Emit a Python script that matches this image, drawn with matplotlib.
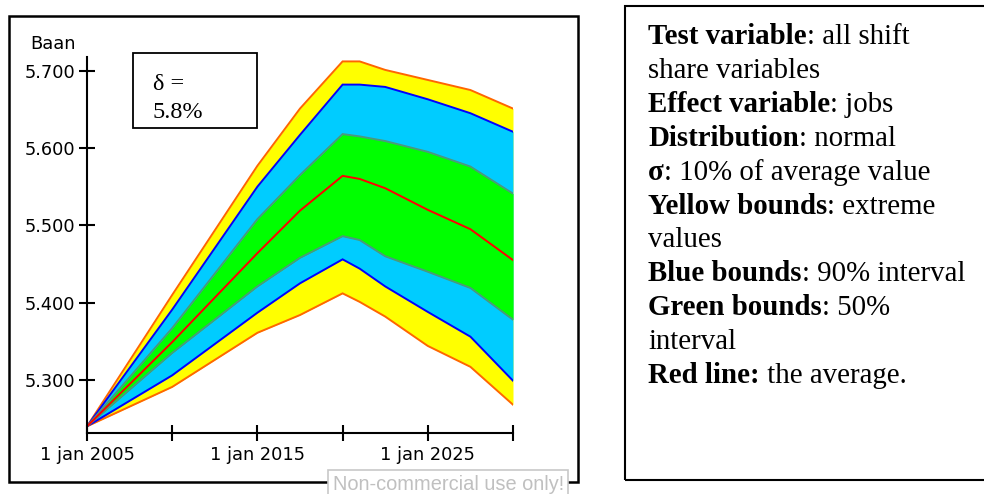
import matplotlib
matplotlib.use('Agg')
import matplotlib.pyplot as plt
from matplotlib.patches import Rectangle

# ---- data ----
years = [2005, 2010, 2015, 2017.5, 2020, 2021, 2022.5, 2025, 2027.5, 2030]
extreme_hi = [5.240, 5.410, 5.577, 5.651, 5.712, 5.712, 5.701, 5.688, 5.675, 5.651]
p90_hi     = [5.240, 5.391, 5.550, 5.617, 5.682, 5.682, 5.679, 5.663, 5.645, 5.621]
p50_hi     = [5.240, 5.367, 5.508, 5.565, 5.618, 5.615, 5.609, 5.595, 5.576, 5.541]
mean       = [5.240, 5.349, 5.464, 5.519, 5.564, 5.560, 5.548, 5.520, 5.495, 5.455]
p50_lo     = [5.240, 5.335, 5.421, 5.458, 5.486, 5.481, 5.460, 5.440, 5.419, 5.378]
p90_lo     = [5.240, 5.306, 5.387, 5.425, 5.456, 5.444, 5.421, 5.388, 5.356, 5.299]
extreme_lo = [5.240, 5.291, 5.361, 5.384, 5.412, 5.401, 5.382, 5.344, 5.317, 5.268]

xticks = [2005, 2010, 2015, 2020, 2025, 2030]
xticklabels = ['1 jan 2005', '', '1 jan 2015', '', '1 jan 2025', '']
yticks = [5.3, 5.4, 5.5, 5.6, 5.7]
yticklabels = ['5.300', '5.400', '5.500', '5.600', '5.700']

info_lines = [
    [("Test variable", True), (": all shift", False)],
    [("share variables", False)],
    [("Effect variable", True), (": jobs", False)],
    [("Distribution", True), (": normal", False)],
    [("σ", True), (": 10% of average value", False)],
    [("Yellow bounds", True), (": extreme", False)],
    [("values", False)],
    [("Blue bounds", True), (": 90% interval", False)],
    [("Green bounds", True), (": 50%", False)],
    [("interval", False)],
    [("Red line:", True), (" the average.", False)],
]

W, H = 984, 494
fig = plt.figure(figsize=(W / 100, H / 100), dpi=100)


def fx(px):
    return px / W


def fy(py):
    return 1 - py / H


ax = fig.add_axes([fx(87), fy(432.7), fx(513) - fx(87), fy(57) - fy(432.7)])
ax.set_xlim(2005, 2030)
ax.set_ylim(5.2318, 5.7177)

YELLOW = '#FFFF00'
LBLUE = '#00CCFF'
GREEN = '#00FF00'
ORANGE = '#FF6600'
BLUE = '#0000FF'
TEAL = '#4A9A7C'
RED = '#FF0000'

ax.fill_between(years, extreme_lo, extreme_hi, color=YELLOW, lw=0, zorder=1)
ax.fill_between(years, p90_lo, p90_hi, color=LBLUE, lw=0, zorder=2)
ax.fill_between(years, p50_lo, p50_hi, color=GREEN, lw=0, zorder=3)
for s, c in [(extreme_hi, ORANGE), (extreme_lo, ORANGE), (p90_hi, BLUE), (p90_lo, BLUE),
             (p50_hi, TEAL), (p50_lo, TEAL), (mean, RED)]:
    ax.plot(years, s, color=c, lw=1.4, zorder=4, solid_joinstyle='miter')

for sp in ['top', 'right']:
    ax.spines[sp].set_visible(False)
for sp in ['left', 'bottom']:
    ax.spines[sp].set_linewidth(1.5)
    ax.spines[sp].set_zorder(5)

ax.set_xticks(xticks)
ax.set_xticklabels(xticklabels)
ax.set_yticks(yticks)
ax.set_yticklabels(yticklabels)
ax.tick_params(axis='x', direction='inout', length=12, width=1.5, pad=3.5,
               labelsize=12.8, colors='black')
ax.tick_params(axis='y', direction='inout', length=11, width=1.5, pad=3,
               labelsize=12.8, colors='black')
ax.patch.set_alpha(0)

fig.text(fx(76), fy(44), 'Baan', ha='right', va='center', fontsize=12.8)

# outer chart frame
fig.add_artist(Rectangle((fx(9), fy(482)), fx(578) - fx(9), fy(16) - fy(482),
                         transform=fig.transFigure, fill=False, lw=1.8, ec='black'))

# delta box
fig.add_artist(Rectangle((fx(133), fy(128)), fx(257) - fx(133), fy(53) - fy(128),
                         transform=fig.transFigure, fill=False, lw=1.3, ec='black'))
fig.text(fx(153), fy(90), 'δ =', ha='left', va='baseline', fontsize=17.5,
         family='Liberation Serif')
fig.text(fx(153), fy(117.5), '5.8%', ha='left', va='baseline', fontsize=17.5,
         family='Liberation Serif')

# watermark
fig.add_artist(Rectangle((fx(328), fy(500)), fx(568) - fx(328), fy(470) - fy(500),
                         transform=fig.transFigure, fc='white', ec='#C8C8C8', lw=1.2,
                         zorder=10))
fig.text(fx(333), fy(490), 'Non-commercial use only!', ha='left', va='baseline',
         fontsize=14.4, family='Liberation Sans', color='#C0C0C0', zorder=11)

# right info box
fig.add_artist(Rectangle((fx(625), fy(480)), fx(1000) - fx(625), fy(6) - fy(480),
                         transform=fig.transFigure, fill=False, lw=1.5, ec='black'))

renderer = fig.canvas.get_renderer()
x0 = 648
base0 = 44
step = 33.9
for i, segs in enumerate(info_lines):
    xpix = x0
    ybase = base0 + i * step
    for txt, bold in segs:
        t = fig.text(fx(xpix), fy(ybase), txt, ha='left', va='baseline', fontsize=20.8,
                     family='Liberation Serif', weight='bold' if bold else 'normal')
        bb = t.get_window_extent(renderer)
        xpix = bb.x1

fig.savefig('out.png', dpi=100)
